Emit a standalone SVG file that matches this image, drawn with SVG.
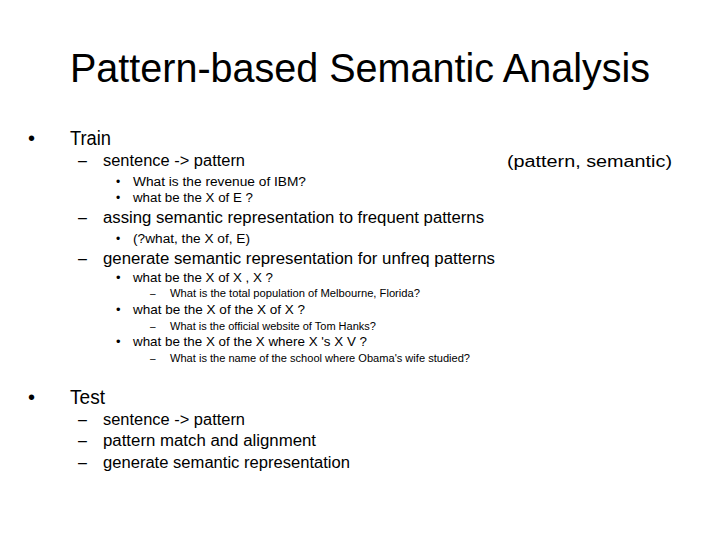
<svg xmlns="http://www.w3.org/2000/svg" width="720" height="540" viewBox="0 0 720 540">
<style>
text{font-family:"Liberation Sans",Arial,sans-serif;fill:#000}
.t{font-size:40px}.l1{font-size:20px}.l2{font-size:16px}.l3{font-size:12px}.l3b{font-size:13px}.l4{font-size:10px}
</style>
<rect width="720" height="540" fill="#fff"/>
<g id="title"><text class="t" x="70" y="82" textLength="580" lengthAdjust="spacingAndGlyphs">Pattern-based Semantic Analysis</text></g>
<g id="body">
<text class="l1" x="28" y="145">•</text><text class="l1" x="70" y="145" textLength="41" lengthAdjust="spacingAndGlyphs">Train</text>
<text class="l2" x="78" y="166">–</text><text class="l2" x="103" y="166" textLength="142" lengthAdjust="spacingAndGlyphs">sentence -&gt; pattern</text>
<text class="l3" x="116" y="186">•</text><text class="l3" x="133" y="186" textLength="173" lengthAdjust="spacingAndGlyphs">What is the revenue of IBM?</text>
<text class="l3" x="116" y="202">•</text><text class="l3" x="133" y="202" textLength="120" lengthAdjust="spacingAndGlyphs">what be the X of E ?</text>
<text class="l2" x="78" y="223">–</text><text class="l2" x="103" y="223" textLength="381" lengthAdjust="spacingAndGlyphs">assing semantic representation to frequent patterns</text>
<text class="l3" x="116" y="243">•</text><text class="l3" x="133" y="243" textLength="117" lengthAdjust="spacingAndGlyphs">(?what, the X of, E)</text>
<text class="l2" x="78" y="264">–</text><text class="l2" x="103" y="264" textLength="392" lengthAdjust="spacingAndGlyphs">generate semantic representation for unfreq patterns</text>
<text class="l3b" x="116" y="282">•</text><text class="l3b" x="133" y="282" textLength="140" lengthAdjust="spacingAndGlyphs">what be the X of X , X ?</text>
<text class="l4" x="150" y="297">–</text><text class="l4" x="170" y="297" textLength="250" lengthAdjust="spacingAndGlyphs">What is the total population of Melbourne, Florida?</text>
<text class="l3b" x="116" y="314">•</text><text class="l3b" x="133" y="314" textLength="172" lengthAdjust="spacingAndGlyphs">what be the X of the X of X ?</text>
<text class="l4" x="150" y="330">–</text><text class="l4" x="170" y="330" textLength="206" lengthAdjust="spacingAndGlyphs">What is the official website of Tom Hanks?</text>
<text class="l3b" x="116" y="346">•</text><text class="l3b" x="133" y="346" textLength="234" lengthAdjust="spacingAndGlyphs">what be the X of the X where X 's X V ?</text>
<text class="l4" x="150" y="362">–</text><text class="l4" x="170" y="362" textLength="300" lengthAdjust="spacingAndGlyphs">What is the name of the school where Obama's wife studied?</text>
<text class="l1" x="28" y="404">•</text><text class="l1" x="70" y="404" textLength="35" lengthAdjust="spacingAndGlyphs">Test</text>
<text class="l2" x="78" y="425">–</text><text class="l2" x="103" y="425" textLength="142" lengthAdjust="spacingAndGlyphs">sentence -&gt; pattern</text>
<text class="l2" x="78" y="446">–</text><text class="l2" x="103" y="446" textLength="213" lengthAdjust="spacingAndGlyphs">pattern match and alignment</text>
<text class="l2" x="78" y="468">–</text><text class="l2" x="103" y="468" textLength="247" lengthAdjust="spacingAndGlyphs">generate semantic representation</text>
</g>
<g id="side"><text class="l2" x="507" y="167" textLength="165" lengthAdjust="spacingAndGlyphs">(pattern, semantic)</text></g>
</svg>
